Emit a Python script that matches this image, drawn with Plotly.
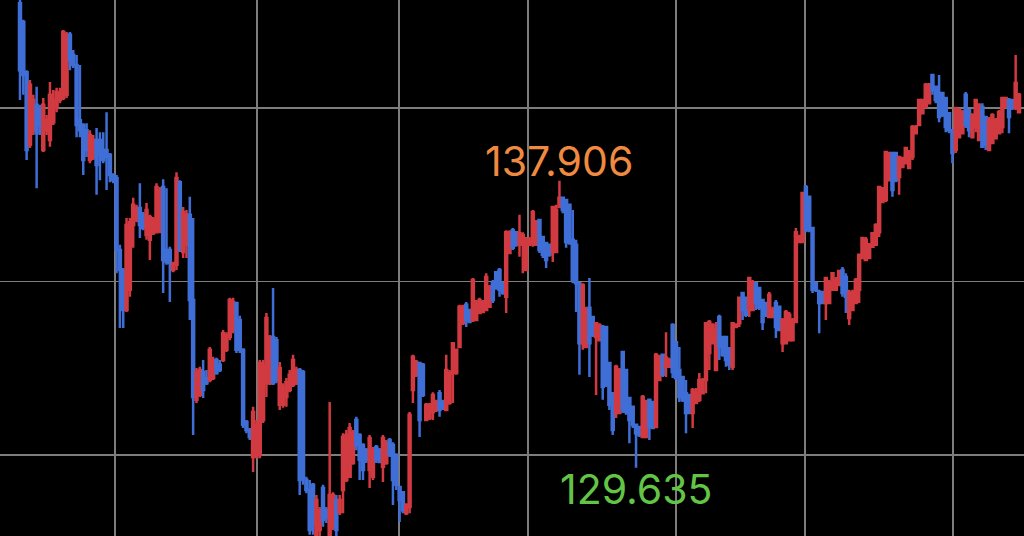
import plotly.graph_objects as go

# OHLC prices, one entry per candle
open_ = [
 143.02,142.48,141.03,138.94,139.36,140.09,139.94,138.79,139.36,139.08,
 139.59,140.00,140.23,140.29,140.38,142.11,141.53,141.24,139.65,139.51,
 139.36,138.50,138.59,139.08,139.08,138.79,138.79,138.65,138.07,137.98,
 135.91,135.33,134.18,134.76,136.63,136.77,137.12,136.92,136.34,136.20,
 136.39,136.42,136.48,137.72,135.91,135.91,135.33,135.48,137.86,135.85,
 136.06,136.92,134.47,131.59,131.73,132.39,132.22,132.16,132.22,132.74,
 132.60,132.74,133.03,133.40,133.60,134.38,133.89,133.03,130.95,130.72,
 129.94,129.94,130.00,131.01,132.07,132.07,133.40,133.31,131.45,131.45,
 131.67,131.87,132.02,132.07,132.45,132.39,129.28,128.99,129.14,127.70,
 127.84,129.05,128.41,127.70,127.93,128.70,128.35,128.99,129.28,129.37,
 129.77,131.01,130.58,130.29,130.14,129.57,129.37,130.23,130.14,129.66,
 129.77,130.43,130.29,130.00,129.08,128.93,128.32,128.50,131.87,132.31,
 132.65,132.60,131.01,131.07,131.24,131.30,131.78,131.53,131.30,131.50,
 132.36,132.36,133.11,133.80,134.33,134.18,133.89,133.89,134.09,134.12,
 134.18,134.27,134.98,135.27,135.33,134.95,134.56,135.82,136.48,136.42,
 136.06,136.06,135.33,136.06,136.11,136.06,136.77,136.28,136.11,136.06,
 135.85,135.85,137.15,137.41,137.35,137.21,136.20,136.06,134.95,133.22,
 133.11,134.24,133.98,133.40,133.31,133.69,133.69,132.65,131.78,131.21,
 131.21,132.97,132.45,131.64,131.39,130.87,130.81,130.52,130.52,131.59,
 131.53,130.81,132.16,132.89,132.54,132.54,133.75,133.25,132.45,132.25,
 131.78,131.73,131.21,131.50,131.59,131.78,132.16,132.94,133.22,132.45,
 133.98,133.40,133.40,133.08,132.54,133.69,133.80,134.67,134.53,134.18,
 134.18,134.95,134.81,134.47,134.38,133.98,133.98,134.38,134.27,133.22,
 133.22,133.31,133.31,133.83,136.14,136.14,137.72,137.44,136.54,134.95,
 134.70,134.70,134.38,134.38,134.76,134.76,134.90,135.33,135.13,133.95,
 134.18,134.38,134.76,135.68,135.62,135.68,136.00,136.06,136.42,137.29,
 137.35,137.92,138.70,138.70,138.01,138.30,138.41,138.27,138.59,139.27,
 139.51,139.85,140.03,140.14,140.95,140.61,140.43,140.43,140.29,139.85,
 139.36,138.79,139.16,139.27,140.38,139.94,139.16,139.45,139.08,140.03,
 139.74,138.79,138.99,139.13,139.27,139.45,140.03,140.23,140.23,140.00,
 139.88]
high = [
 143.11,142.54,141.09,140.81,140.38,140.61,140.09,140.29,139.80,140.75,
 140.52,140.58,140.58,142.25,142.19,142.19,141.67,141.53,141.24,139.56,
 139.56,139.36,139.22,139.42,139.30,139.30,139.88,138.70,138.12,138.07,
 136.06,135.39,136.83,136.83,137.41,137.21,137.83,137.00,137.26,136.92,
 136.86,137.83,137.72,137.95,137.69,136.00,135.56,138.15,137.92,137.15,
 137.06,137.44,136.83,132.51,132.54,132.74,132.45,133.11,132.83,132.80,
 132.74,133.60,133.54,134.53,134.53,134.41,134.01,133.08,131.01,130.78,
 131.39,131.01,132.74,132.74,134.09,133.46,134.81,133.40,132.68,132.07,
 132.22,132.45,132.89,132.54,132.51,132.45,129.37,129.28,129.19,128.85,
 128.50,129.14,128.50,131.53,128.93,128.85,128.85,130.63,130.72,130.92,
 130.72,131.10,130.63,130.34,130.20,130.58,130.23,130.29,130.20,130.58,
 130.43,130.49,130.37,130.05,129.08,128.93,128.61,131.24,132.89,132.74,
 132.68,132.65,131.50,131.50,131.81,131.59,131.87,131.59,132.89,132.45,
 133.25,133.03,134.33,134.33,134.41,134.18,135.10,134.47,134.53,134.47,
 135.24,134.90,135.04,135.27,135.39,134.95,136.48,136.48,136.54,136.42,
 136.92,136.42,136.28,136.28,137.06,136.77,136.77,136.28,136.11,136.06,
 137.15,137.21,137.906,137.41,137.35,137.21,137.06,136.20,134.95,134.95,
 134.27,135.10,133.98,133.80,133.80,133.75,133.69,132.65,131.78,132.60,
 132.51,132.97,132.45,131.67,131.39,130.87,130.81,131.73,131.59,131.59,
 131.53,132.94,132.89,132.89,133.54,132.80,133.80,133.25,133.11,132.25,
 132.16,131.73,131.93,131.93,132.36,132.22,133.83,133.89,133.80,133.83,
 134.04,133.40,133.40,133.08,133.83,133.80,134.56,134.70,134.53,135.13,
 135.04,134.98,134.81,134.47,134.38,134.70,134.27,134.47,134.27,133.95,
 134.18,134.12,133.95,136.54,136.34,137.58,137.78,137.44,136.57,134.95,
 134.76,134.70,135.13,135.04,135.27,135.13,135.33,135.42,135.24,134.76,
 134.76,135.10,135.77,136.28,136.28,136.11,136.42,136.68,137.72,137.72,
 138.73,138.73,138.73,138.70,138.59,138.59,138.88,138.79,139.51,139.51,
 140.23,140.23,140.72,140.72,140.95,140.61,140.95,140.43,140.32,139.85,
 139.36,140.03,140.00,139.94,140.46,139.94,139.85,140.23,140.14,140.14,
 139.74,139.74,139.85,139.71,139.94,140.32,140.32,140.29,140.23,141.53,
 140.43]
low = [
 140.23,140.38,138.50,138.85,139.22,137.69,139.22,138.73,139.22,138.88,
 139.51,139.88,140.14,140.23,140.29,141.09,141.15,139.16,139.16,138.07,
 138.59,138.41,138.50,137.50,137.92,138.41,137.64,137.86,137.83,135.24,
 133.66,133.66,134.12,134.56,135.97,136.71,136.25,136.48,136.20,135.62,
 136.34,136.39,136.39,134.67,135.48,134.41,135.27,135.33,135.85,135.68,
 135.68,133.89,130.58,131.50,131.67,131.64,132.02,132.10,132.16,132.31,
 132.39,132.68,132.97,133.31,133.51,132.94,132.94,130.78,130.63,130.43,
 129.51,129.91,129.91,130.92,131.67,132.02,132.02,132.07,131.30,131.36,
 131.39,131.81,131.96,132.02,128.85,129.14,128.90,127.70,127.70,127.55,
 127.55,127.93,128.04,127.55,127.84,127.55,128.27,128.32,129.22,129.34,
 129.72,130.14,129.28,129.28,129.77,129.05,129.28,129.77,129.77,129.22,
 129.72,129.94,128.56,128.99,128.07,128.32,128.27,128.32,131.50,132.25,
 130.52,131.67,131.01,131.01,131.01,131.24,131.10,131.30,131.30,131.45,
 131.50,132.31,133.11,133.75,133.69,133.80,133.83,133.89,134.09,134.12,
 134.18,134.27,134.38,134.76,134.56,134.62,134.09,135.82,135.91,136.00,
 135.71,135.24,135.33,136.06,136.00,136.06,135.82,135.68,135.39,135.71,
 135.56,135.85,137.15,136.97,135.97,136.06,134.95,134.12,132.31,133.03,
 133.11,132.25,133.40,131.73,133.31,131.59,131.96,131.30,130.58,131.07,
 131.21,131.21,131.16,130.34,130.78,129.635,130.52,130.49,130.52,130.43,
 130.78,130.78,132.16,132.25,132.25,132.54,132.22,132.16,131.53,131.53,
 130.63,131.21,130.78,131.50,131.53,131.78,131.78,132.45,133.22,132.45,
 132.74,132.83,132.54,132.45,132.45,133.69,133.69,133.89,133.98,133.98,
 134.18,134.18,134.18,133.60,133.98,133.98,133.98,133.37,133.60,132.97,
 133.22,133.31,133.31,133.80,136.14,136.14,136.42,136.42,134.67,134.70,
 133.51,134.38,133.89,134.38,134.76,134.76,134.90,134.56,134.09,133.75,
 134.18,134.38,134.38,135.68,135.62,135.68,136.00,136.06,136.28,137.29,
 137.29,137.92,137.44,137.86,137.50,138.30,138.41,138.27,138.50,139.27,
 139.51,139.85,140.03,140.14,140.38,140.14,139.59,139.74,139.30,139.27,
 138.41,138.70,139.16,139.27,139.42,139.16,139.16,139.30,139.08,138.88,
 138.79,138.79,138.99,139.13,139.27,139.27,140.03,139.27,139.94,139.94,
 139.88]
close = [
 141.09,140.95,138.79,140.67,140.23,139.27,139.51,140.09,139.65,140.38,
 140.23,140.46,140.43,142.19,142.11,141.38,141.24,139.51,139.36,138.50,
 138.79,139.22,139.08,138.36,138.65,138.50,138.59,138.07,137.92,135.91,
 135.33,134.18,136.63,136.71,137.21,137.12,136.63,136.54,137.06,136.86,
 136.77,137.72,137.64,135.62,135.56,135.53,135.53,137.98,135.91,137.00,
 136.92,134.47,131.67,132.39,132.45,131.87,132.07,133.03,132.74,132.36,
 132.45,133.51,133.46,134.47,134.41,133.03,133.03,130.87,130.72,130.52,
 131.24,130.87,132.65,132.60,133.95,133.40,132.07,132.16,132.51,131.93,
 132.10,132.31,132.74,132.45,129.28,129.34,128.99,127.84,127.99,128.70,
 128.41,128.13,128.18,128.85,128.85,127.84,128.70,130.52,130.58,130.78,
 130.63,130.29,129.86,129.57,129.86,130.49,130.14,129.86,129.80,130.49,
 130.34,130.00,129.28,129.14,128.70,128.41,128.56,131.16,132.83,132.68,
 131.01,131.73,131.45,131.45,131.73,131.53,131.30,131.36,132.45,132.36,
 133.22,133.03,134.27,134.27,133.89,133.83,135.04,134.41,134.47,134.41,
 135.13,134.84,134.47,134.81,134.76,134.67,136.42,136.42,135.97,136.06,
 136.39,136.34,136.20,136.20,137.00,136.71,135.91,135.77,135.62,135.77,
 137.15,137.06,137.41,137.06,136.14,136.11,135.04,134.95,133.22,134.90,
 134.18,133.22,133.46,133.80,133.75,131.96,132.02,131.45,130.72,132.54,
 132.45,131.30,131.24,131.01,130.87,130.63,130.58,131.67,131.53,130.81,
 130.78,132.89,132.83,132.31,132.80,132.74,132.39,132.22,131.67,131.59,
 131.21,131.21,131.87,131.78,132.16,132.16,133.80,133.83,133.75,133.60,
 133.11,132.89,132.74,132.60,133.80,133.75,134.53,134.18,134.04,135.10,
 134.98,134.38,134.24,133.83,134.04,134.62,134.18,133.69,133.60,133.89,
 134.12,134.04,133.89,136.42,136.31,137.55,136.48,136.48,134.76,134.76,
 134.38,134.38,135.10,134.98,135.24,135.04,135.30,134.67,134.56,134.67,
 134.70,135.04,135.77,136.25,136.20,136.06,136.39,136.63,137.72,137.69,
 138.73,138.70,137.64,137.92,138.59,138.56,138.85,138.73,139.45,139.45,
 140.23,140.23,140.67,140.67,140.52,140.23,139.74,139.80,139.45,139.36,
 138.70,140.00,139.94,139.88,139.51,139.36,139.80,140.23,140.09,138.88,
 138.94,139.65,139.80,139.65,139.88,140.29,140.29,139.74,140.00,140.72,
 140.38]

candle_index = list(range(len(close)))
price_grid = [130, 135, 140]
# candle positions where the period separators fall
period_breaks = [28.5, 71.2, 113.8, 152.6, 197.0, 235.7, 280.2]
marked_window = range(150, 240)

UP = "#d13a40"
DOWN = "#3f6fd6"

fig = go.Figure(go.Candlestick(
    x=candle_index, open=open_, high=high, low=low, close=close,
    increasing=dict(line=dict(color=UP, width=2.5), fillcolor=UP),
    decreasing=dict(line=dict(color=DOWN, width=2.5), fillcolor=DOWN),
    whiskerwidth=0, hoverinfo="skip", showlegend=False,
))

hi_i = max(marked_window, key=lambda i: high[i])
lo_i = min(marked_window, key=lambda i: low[i])
fig.add_annotation(x=hi_i, y=high[hi_i], text=f"{high[hi_i]:.3f}", showarrow=False,
                   yanchor="bottom", xanchor="center", yshift=-7,
                   font=dict(family="Inter", size=41, color="#ef8a40"))
fig.add_annotation(x=lo_i, y=low[lo_i], text=f"{low[lo_i]:.3f}", showarrow=False,
                   yanchor="top", xanchor="center", yshift=6,
                   font=dict(family="Inter", size=41, color="#63c546"))

fig.update_layout(
    width=1024, height=536, margin=dict(l=0, r=0, t=0, b=0),
    paper_bgcolor="black", plot_bgcolor="black",
    boxgap=0.15,
    xaxis=dict(range=[-6.0, 301.5], rangeslider=dict(visible=False),
               tickvals=period_breaks, showticklabels=False, ticks="",
               showgrid=True, gridcolor="#7d7d7d", gridwidth=1.5,
               zeroline=False, showline=False),
    yaxis=dict(range=[127.666, 143.112], tickvals=price_grid, showticklabels=False,
               ticks="", showgrid=True, gridcolor="#7d7d7d", gridwidth=1.5,
               zeroline=False, showline=False),
)

fig.write_html(
    "out.html",
    config={"displayModeBar": False, "staticPlot": True},
    post_script="document.body.style.margin='0';document.body.style.background='black';"
                "document.body.style.overflow='hidden';",
)
